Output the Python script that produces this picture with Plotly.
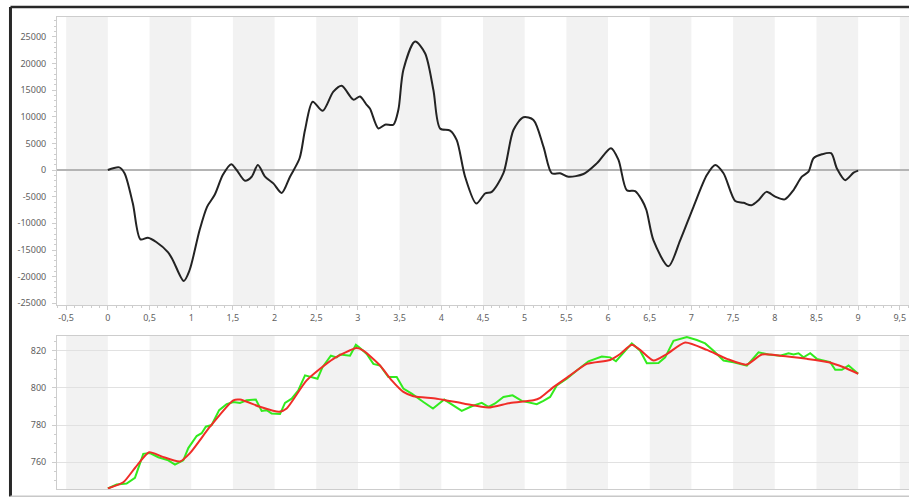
import plotly.graph_objects as go
from plotly.subplots import make_subplots

# top chart: smooth oscillating signal
x_top = [0.0, 0.136, 0.20, 0.30, 0.39, 0.48, 0.58, 0.72, 0.78, 0.91, 0.98, 1.10, 1.19, 1.28,
         1.38, 1.48, 1.545, 1.645, 1.725, 1.80, 1.885, 1.985, 2.085, 2.185, 2.30, 2.365,
         2.457, 2.577, 2.705, 2.805, 2.945, 3.025, 3.105, 3.145, 3.245, 3.325, 3.425, 3.485,
         3.545, 3.685, 3.805, 3.905, 3.985, 4.105, 4.185, 4.285, 4.42, 4.525, 4.605, 4.745,
         4.865, 4.985, 5.105, 5.225, 5.325, 5.425, 5.525, 5.705, 5.865, 6.035, 6.125, 6.225,
         6.325, 6.405, 6.46, 6.545, 6.725, 6.865, 7.025, 7.185, 7.285, 7.385, 7.525, 7.625,
         7.72, 7.805, 7.90, 8.005, 8.12, 8.225, 8.325, 8.405, 8.465, 8.565, 8.675, 8.745,
         8.845, 8.945, 9.0]
y_top = [0, 500, -600, -6300, -13000, -12700, -13500, -15400, -16900, -20800, -18800, -11300,
         -6900, -4700, -900, 1100, 0, -2000, -1250, 950, -1250, -2500, -4300, -1250, 2200, 7500,
         12800, 11100, 14700, 15800, 13200, 13800, 12200, 11500, 7800, 8500, 8500, 11300,
         18800, 24100, 21900, 15000, 7800, 7400, 5600, -1250, -6300, -4400, -4100, -600,
         7500, 9900, 9400, 4400, -600, -600, -1250, -750, 1250, 4100, 1900, -3800,
         -3950, -5600, -7500, -13200, -18050, -13200, -6900, -950, 950, -600, -5800, -6150,
         -6600, -5650, -4100, -5000, -5500, -3750, -1250, -300, 2200, 2950, 3150, 300,
         -1900, -500, -100]

# bottom chart: raw (green) and smoothed (red) series
x_raw = [0.0, 0.105, 0.225, 0.325, 0.425, 0.505, 0.605, 0.725, 0.805, 0.905, 0.965, 1.065,
         1.125, 1.175, 1.245, 1.335, 1.425, 1.505, 1.585, 1.665, 1.775, 1.845, 1.905, 1.965,
         2.065, 2.125, 2.205, 2.285, 2.365, 2.445, 2.515, 2.575, 2.675, 2.745, 2.785, 2.905,
         2.975, 3.025, 3.105, 3.185, 3.265, 3.365, 3.465, 3.545, 3.645, 3.785, 3.90, 4.035,
         4.14, 4.245, 4.365, 4.485, 4.565, 4.645, 4.745, 4.855, 4.965, 5.145, 5.225, 5.305,
         5.385, 5.505, 5.625, 5.765, 5.925, 6.025, 6.095, 6.185, 6.285, 6.385, 6.465, 6.605,
         6.685, 6.785, 6.945, 7.065, 7.165, 7.265, 7.385, 7.505, 7.665, 7.805, 7.925, 8.065,
         8.165, 8.225, 8.285, 8.345, 8.425, 8.505, 8.665, 8.725, 8.805, 8.885, 8.945, 9.0]
y_raw = [745.9, 748.0, 748.5, 751.6, 764.5, 764.9, 762.7, 761.0, 758.7, 761.0, 767.6, 774.1,
         775.6, 779.1, 780.0, 788.0, 791.2, 792.4, 791.9, 793.3, 793.7, 787.6, 788.0, 786.2,
         785.9, 791.9, 794.2, 798.7, 806.7, 805.8, 804.9, 811.1, 817.3, 816.4, 817.9, 817.3,
         823.2, 821.4, 818.2, 812.9, 812.0, 805.8, 805.8, 799.6, 796.9, 792.4, 788.9, 793.7,
         790.7, 787.6, 790.1, 791.9, 789.8, 791.6, 795.1, 796.0, 793.0, 791.2, 793.0, 795.1,
         801.3, 804.9, 809.3, 814.3, 816.8, 816.4, 814.3, 819.1, 823.9, 820.0, 813.2, 813.4,
         816.4, 825.3, 827.3, 825.7, 823.9, 820.0, 814.7, 813.8, 812.0, 819.1, 817.9, 817.3,
         818.6, 817.9, 818.6, 816.4, 818.6, 815.6, 813.8, 809.7, 809.7, 812.0, 809.7, 807.6]

x_smooth = [0.0, 0.185, 0.325, 0.495, 0.645, 0.865, 0.985, 1.225, 1.505, 1.585, 1.825, 2.055,
            2.145, 2.385, 2.705, 2.985, 3.065, 3.265, 3.405, 3.545, 3.665, 3.945, 4.265,
            4.565, 4.825, 5.105, 5.185, 5.345, 5.545, 5.745, 6.025, 6.145, 6.285, 6.385,
            6.545, 6.705, 6.925, 7.185, 7.425, 7.66, 7.845, 8.065, 8.385, 8.645, 8.825, 9.0]
y_smooth = [745.9, 749.2, 756.9, 765.4, 763.1, 760.4, 764.9, 779.1, 793.3, 793.7, 789.8, 787.1,
            788.9, 804.0, 815.6, 821.4, 820.0, 812.0, 804.0, 797.8, 795.5, 794.2, 791.6,
            789.4, 791.9, 793.3, 794.6, 800.4, 806.7, 812.9, 815.0, 818.2, 823.2, 820.4,
            814.7, 818.2, 824.4, 820.4, 815.6, 812.5, 817.9, 817.3, 815.6, 813.8, 811.1, 807.6]

x_tickvals = [-0.5, 0, 0.5, 1, 1.5, 2, 2.5, 3, 3.5, 4, 4.5, 5, 5.5, 6, 6.5, 7, 7.5, 8, 8.5, 9, 9.5]
x_ticktext = ["-0,5", "0", "0,5", "1", "1,5", "2", "2,5", "3", "3,5", "4", "4,5", "5",
              "5,5", "6", "6,5", "7", "7,5", "8", "8,5", "9", "9,5"]
y_top_tickvals = [-25000, -20000, -15000, -10000, -5000, 0, 5000, 10000, 15000, 20000, 25000]
y_top_ticktext = ["-25000", "-20000", "-15000", "-10000", "-5000", "0", "5000", "10000",
                  "15000", "20000", "25000"]
y_bot_tickvals = [760, 780, 800, 820]
band_starts = [-0.5, 0.5, 1.5, 2.5, 3.5, 4.5, 5.5, 6.5, 7.5, 8.5, 9.5]

fig = make_subplots(rows=2, cols=1, vertical_spacing=0.0657, row_heights=[0.61, 0.39])
fig.update_layout(yaxis=dict(domain=[0.39, 1.0]), yaxis2=dict(domain=[0.0, 0.3242]))

fig.add_trace(go.Scatter(x=x_top, y=y_top, mode="lines", line=dict(color="rgb(35,35,35)", width=2,
                                                                    shape="spline", smoothing=0.8)),
              row=1, col=1)
fig.add_trace(go.Scatter(x=x_raw, y=y_raw, mode="lines",
                         line=dict(color="rgb(50,235,30)", width=2)), row=2, col=1)
fig.add_trace(go.Scatter(x=x_smooth, y=y_smooth, mode="lines",
                         line=dict(color="rgb(240,45,40)", width=2, shape="spline", smoothing=0.6)),
              row=2, col=1)

shapes = []
for b in band_starts:
    for xr, yr in (("x", "y domain"), ("x2", "y2 domain")):
        shapes.append(dict(type="rect", xref=xr, yref=yr, x0=b, x1=b + 0.5, y0=0, y1=1,
                           fillcolor="rgb(242,242,242)", line=dict(width=0), layer="below"))
# outer frame
shapes.append(dict(type="line", xref="paper", yref="paper", x0=-0.0546, x1=-0.0546,
                   y0=-0.016, y1=1.0212, line=dict(color="rgb(40,40,40)", width=3)))
shapes.append(dict(type="line", xref="paper", yref="paper", x0=-0.0546, x1=1.01,
                   y0=1.0212, y1=1.0212, line=dict(color="rgb(40,40,40)", width=2.5)))
shapes.append(dict(type="line", xref="paper", yref="paper", x0=-0.0546, x1=1.01,
                   y0=-0.0155, y1=-0.0155, line=dict(color="rgb(200,200,200)", width=1.5)))

tick_font = dict(family="Noto Sans", size=9, color="rgb(95,95,95)")
axis_col = "rgb(205,205,205)"

fig.update_xaxes(range=[-0.61, 9.61], showgrid=False, zeroline=False, showline=True,
                 linecolor=axis_col, linewidth=1, mirror=True, tickvals=x_tickvals,
                 ticktext=x_ticktext, tickfont=tick_font, ticks="outside", ticklen=4,
                 tickcolor=axis_col, minor=dict(ticks="outside", ticklen=2, dtick=0.1,
                                                tickcolor=axis_col))
fig.update_xaxes(showticklabels=False, ticks="", minor=dict(ticks=""), row=2, col=1)

fig.update_yaxes(range=[-25300, 28700], tickvals=y_top_tickvals, ticktext=y_top_ticktext,
                 showgrid=False, zeroline=True, zerolinecolor="rgb(180,180,180)", zerolinewidth=2,
                 row=1, col=1)
fig.update_yaxes(range=[745.6, 827.9], tickvals=y_bot_tickvals, showgrid=True,
                 gridcolor="rgb(225,225,225)", gridwidth=1, zeroline=False,
                 minor=dict(dtick=5), row=2, col=1)
fig.update_yaxes(showline=True, linecolor=axis_col, linewidth=1, tickfont=tick_font,
                 ticks="outside", ticklen=4, tickcolor=axis_col, ticklabelstandoff=4,
                 minor=dict(ticks="outside", ticklen=2, tickcolor=axis_col))
fig.update_yaxes(minor=dict(dtick=1000), row=1, col=1)

fig.update_layout(width=909, height=498, margin=dict(l=57, r=0, t=17, b=9),
                  paper_bgcolor="white", plot_bgcolor="white", showlegend=False, shapes=shapes)

# drop the browser's default page margin so the figure sits at the window corner
fig.write_html("out.html", config={"displayModeBar": False},
               post_script="document.body.style.margin = '0';")
